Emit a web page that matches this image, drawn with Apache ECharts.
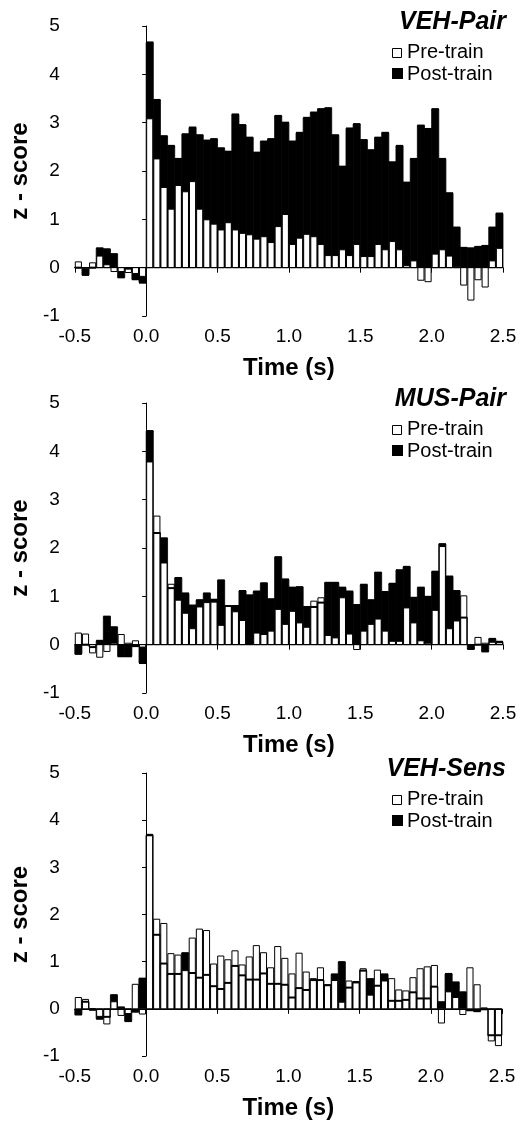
<!DOCTYPE html>
<html>
<head>
<meta charset="utf-8">
<script src="https://cdn.jsdelivr.net/npm/echarts@6/dist/echarts.min.js"></script>
<style>html,body{margin:0;padding:0;background:#fff;}#c{width:521px;height:1121px;}</style>
</head>
<body>
<div id="c"></div>
<script>
// ---- data ----
const binWidth = 0.05;
const binStarts = Array.from({length: 60}, (_, i) => +(-0.5 + i * binWidth).toFixed(2));
const xTicks = ['-0.5', '0.0', '0.5', '1.0', '1.5', '2.0', '2.5'];
const yTicks = ['-1', '0', '1', '2', '3', '4', '5'];
const panelTitles = ['VEH-Pair', 'MUS-Pair', 'VEH-Sens'];
const legendNames = ['Pre-train', 'Post-train'];

const vehPairPre = [0.12,-0.02,0.1,0.24,0.06,-0.08,-0.08,-0.1,-0.12,-0.18,
  3.08,2.25,1.66,1.21,1.7,1.57,1.78,1.21,0.99,0.9,0.78,0.93,0.78,0.71,0.68,0.59,0.64,0.52,0.85,1.1,
  0.48,0.61,0.69,0.64,0.48,0.25,0.25,0.37,0.25,0.48,0.23,0.23,0.48,0.37,0.54,0.37,0.04,0.14,-0.26,-0.29,
  0.28,0.37,0.24,0.02,-0.36,-0.67,-0.25,-0.4,0.14,0.4];
const vehPairPost = [0.0,-0.15,0.0,0.4,0.38,0.28,-0.2,-0.02,-0.24,-0.31,
  4.66,3.47,2.72,2.52,2.25,2.76,2.9,2.74,2.63,2.66,2.47,2.4,3.17,2.95,2.69,2.38,2.61,2.66,3.14,3.0,
  2.61,2.79,3.1,3.21,3.28,3.3,2.74,2.09,2.88,2.97,2.64,2.43,2.69,2.79,2.18,2.52,1.76,2.25,2.94,2.87,
  3.28,2.25,1.54,0.83,0.41,0.4,0.43,0.45,0.83,1.12];

const musPairPre = [0.24,0.22,-0.17,-0.26,-0.14,0.03,0.21,0.03,0.08,-0.05,
  3.78,2.66,1.69,1.25,0.92,0.65,0.33,0.78,0.87,0.88,0.4,0.79,0.68,0.5,0.01,0.24,0.21,0.28,0.73,0.42,
  0.69,0.45,0.36,0.9,0.97,0.19,0.14,0.97,0.22,-0.1,0.28,0.42,0.53,0.28,0.07,0.07,0.76,0.45,0.08,0.03,
  0.71,2.03,0.33,0.49,1.01,0.0,0.15,0.03,0.05,0.04];
const musPairPost = [-0.19,0.0,-0.05,0.08,0.58,0.36,-0.24,-0.24,-0.03,-0.38,
  4.42,2.31,2.2,1.17,1.38,1.06,0.81,0.92,1.06,0.93,1.33,0.8,0.8,1.11,1.02,1.1,1.27,0.94,1.81,1.35,
  1.18,1.19,0.78,0.78,0.87,1.28,1.28,1.18,1.1,0.82,1.24,0.92,1.49,1.09,1.26,1.54,1.61,0.97,1.18,0.99,
  1.51,2.08,1.41,1.11,0.56,-0.09,0.0,-0.14,0.12,0.06];

const vehSensPre = [0.24,0.2,0.0,-0.16,-0.32,0.15,-0.14,-0.1,0.52,-0.11,
  3.7,1.9,1.81,1.17,1.14,0.81,1.5,1.69,1.66,0.95,1.12,1.04,1.23,0.93,1.1,1.34,1.19,0.87,1.32,1.07,
  0.74,1.18,0.78,0.64,0.87,0.51,0.6,0.14,0.59,0.58,0.85,0.29,0.82,0.59,0.64,0.4,0.38,0.66,0.85,0.89,
  0.92,-0.3,0.36,0.24,-0.12,0.87,0.51,0.02,-0.68,-0.78];
const vehSensPost = [-0.12,0.15,-0.02,-0.21,-0.17,0.29,0.03,-0.26,-0.06,0.64,
  3.68,1.57,0.96,0.74,0.74,1.18,0.76,0.66,0.72,0.48,0.42,0.55,0.91,0.71,0.62,0.62,0.75,0.53,0.53,0.51,
  0.24,0.44,0.4,0.61,0.61,0.5,0.73,0.99,0.45,0.56,0.81,0.63,0.49,0.73,0.17,0.17,0.19,0.35,0.22,0.22,
  0.47,0.14,0.74,0.56,0.35,-0.03,-0.05,-0.01,-0.56,-0.56];

const panels = [
  {pre: vehPairPre, post: vehPairPost},
  {pre: musPairPre, post: musPairPost},
  {pre: vehSensPre, post: vehSensPost}
];

// ---- layout ----
const FONT = 'Liberation Sans, Arial, Helvetica, sans-serif';
const gridTops = [26, 403, 773];
const gridHeights = [290, 290, 289];
const gridLeft = [71, 71, 70];
const gridW = 432;

function renderItem(params, api) {
  const t0 = api.value(0), pre = api.value(1), post = api.value(2);
  const pL = api.coord([t0, 0]);
  const pR = api.coord([t0 + binWidth, 0]);
  const y0 = pL[1];
  const yPre = api.coord([t0, pre])[1];
  const yPost = api.coord([t0, post])[1];
  const x = pL[0], w = pR[0] - pL[0];
  const ch = [];
  ch.push({type: 'rect', shape: {x: x, y: Math.min(y0, yPost), width: w, height: Math.abs(yPost - y0)},
    style: {fill: '#000', stroke: '#000', lineWidth: 0.8}});
  ch.push({type: 'rect', shape: {x: x + 0.5, y: Math.min(y0, yPre), width: w - 1, height: Math.abs(yPre - y0)},
    style: {fill: '#fff', stroke: '#000', lineWidth: 1}});
  ch.push({type: 'line', shape: {x1: x, y1: yPost, x2: x + w, y2: yPost},
    style: {stroke: '#000', lineWidth: 2}});
  return {type: 'group', children: ch};
}

const option = {
  backgroundColor: '#fff',
  animation: false,
  textStyle: {fontFamily: FONT, color: '#000'},
  title: panelTitles.map((t, i) => ({
    text: t, right: 15, top: gridTops[i] - 16, padding: 0,
    textStyle: {fontFamily: FONT, fontSize: 25, fontWeight: 'bold', fontStyle: 'italic', color: '#000'}
  })),
  grid: gridTops.map((t, i) => ({left: gridLeft[i], top: t, width: gridW, height: gridHeights[i]})),
  xAxis: gridTops.map((t, i) => ({
    gridIndex: i, type: 'value', min: -0.5, max: 2.5, interval: 0.5,
    axisLine: {lineStyle: {color: '#000', width: 1}},
    axisTick: {length: 5, lineStyle: {color: '#000'}},
    splitLine: {show: false},
    axisLabel: {color: '#000', fontSize: 19, fontFamily: FONT, margin: 11,
      formatter: v => xTicks[Math.round((v + 0.5) / 0.5)]},
    name: 'Time (s)', nameLocation: 'middle', nameGap: 40,
    nameTextStyle: {fontFamily: FONT, fontSize: 24, fontWeight: 'bold', color: '#000'}
  })),
  yAxis: gridTops.map((t, i) => ({
    gridIndex: i, type: 'value', min: -1, max: 5, interval: 1,
    axisLine: {show: true, lineStyle: {color: '#000', width: 1}},
    axisTick: {show: true, length: 4, lineStyle: {color: '#000'}},
    splitLine: {show: false},
    axisLabel: {color: '#000', fontSize: 19, fontFamily: FONT, margin: 15,
      formatter: v => yTicks[Math.round(v + 1)]},
    name: 'z - score', nameLocation: 'middle', nameGap: 35, nameRotate: 90,
    nameTextStyle: {fontFamily: FONT, fontSize: 24, fontWeight: 'bold', color: '#000'}
  })),
  graphic: [],
  series: panels.map((p, i) => ({
    type: 'custom', xAxisIndex: i, yAxisIndex: i, clip: true,
    renderItem: renderItem,
    encode: {x: 0, y: [1, 2]},
    data: binStarts.map((t, k) => [t, p.pre[k], p.post[k]]),
    markLine: {silent: true, symbol: 'none', animation: false,
      label: {show: false}, lineStyle: {color: '#000', width: 1, type: 'solid'},
      data: [{yAxis: 0}]}
  }))
};

gridTops.forEach((t, i) => {
  option.graphic.push(
    {type: 'rect', left: 392, top: t + 22, shape: {width: 9, height: 9},
      style: {fill: '#fff', stroke: '#000', lineWidth: 1}},
    {type: 'text', left: 407, top: t + 16, style: {text: legendNames[0], fontFamily: FONT, fontSize: 20, fill: '#000'}},
    {type: 'rect', left: 392, top: t + 42, shape: {width: 11, height: 11},
      style: {fill: '#000'}},
    {type: 'text', left: 407, top: t + 38, style: {text: legendNames[1], fontFamily: FONT, fontSize: 20, fill: '#000'}}
  );
});

const chart = echarts.init(document.getElementById('c'), null, {renderer: 'canvas'});
chart.setOption(option);
</script>
</body>
</html>
